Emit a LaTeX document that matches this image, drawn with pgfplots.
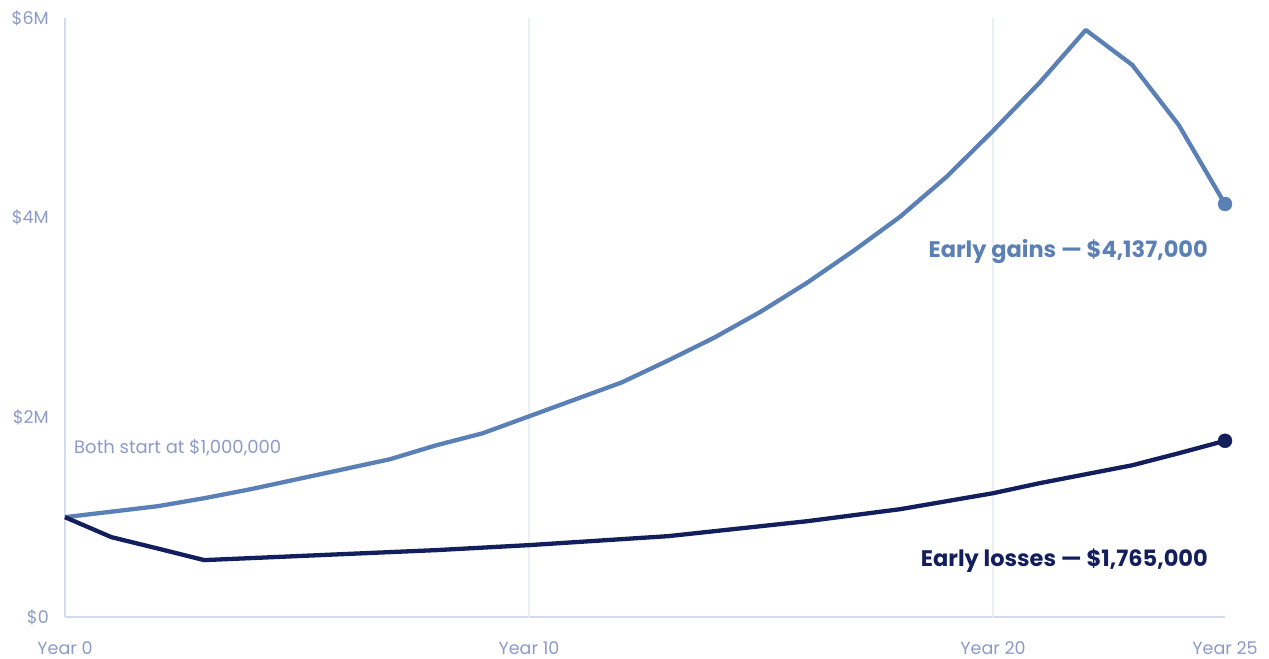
\documentclass[border=0pt]{standalone}
\usepackage{fontspec}
\setmainfont{Poppins}
\usepackage{pgfplots}
\usepackage{pgfplotstable}
\pgfplotsset{compat=1.18}
\definecolor{gainc}{HTML}{5B80B6}
\definecolor{lossc}{HTML}{121F5C}
\definecolor{tickc}{HTML}{8E9AC6}
\definecolor{axisc}{HTML}{D3D9EE}
\definecolor{gridc}{HTML}{EBEEF6}
\pgfplotstableread{
year gains losses
0 1.000 1.000
1 1.055 0.800
2 1.110 0.686
3 1.190 0.570
4 1.280 0.590
5 1.380 0.610
6 1.480 0.630
7 1.580 0.650
8 1.720 0.670
9 1.840 0.695
10 2.010 0.720
11 2.180 0.750
12 2.350 0.780
13 2.570 0.810
14 2.800 0.860
15 3.060 0.910
16 3.350 0.960
17 3.670 1.020
18 4.010 1.080
19 4.410 1.160
20 4.870 1.240
21 5.350 1.340
22 5.880 1.430
23 5.530 1.520
24 4.930 1.640
25 4.137 1.765
}\datatable
\begin{document}
\begin{tikzpicture}
\begin{axis}[
  scale only axis, width=1160bp, height=599bp,
  xmin=0, xmax=25, ymin=0, ymax=6,
  axis lines=left,
  axis line style={draw=axisc, line width=1.5bp, -},
  xtick={0,10,20,25}, xticklabels={Year 0,Year 10,Year 20,Year 25},
  ytick={0,2,4,6}, yticklabels={\$0,\$2M,\$4M,\$6M},
  major tick length=0,
  tick label style={font=\fontsize{17.5bp}{20bp}\selectfont, text=tickc},
  xticklabel style={anchor=base, yshift=-37bp, inner sep=0pt},
  yticklabel style={anchor=east, xshift=-16bp, inner sep=0pt},
  clip=false,
]
\draw[gridc, line width=1.5bp] (axis cs:10,0) -- (axis cs:10,6);
\draw[gridc, line width=1.5bp] (axis cs:20,0) -- (axis cs:20,6);
\addplot[gainc, line width=4.3bp, line join=round, no marks] table[x=year, y=gains]{\datatable};
\addplot[lossc, line width=4.3bp, line join=round, no marks] table[x=year, y=losses]{\datatable};
\addplot[gainc, only marks, mark=*, mark size=7bp, mark options={fill=gainc, draw=gainc}] coordinates {(25,4.137)};
\addplot[lossc, only marks, mark=*, mark size=7bp, mark options={fill=lossc, draw=lossc}] coordinates {(25,1.765)};
\node[anchor=east, text=gainc, font=\fontsize{22.5bp}{26bp}\selectfont\bfseries, inner sep=0pt, xshift=-17bp, yshift=-3bp] at (axis cs:25,3.686) {Early gains — \$4,137,000};
\node[anchor=east, text=lossc, font=\fontsize{22.5bp}{26bp}\selectfont\bfseries, inner sep=0pt, xshift=-17bp, yshift=-3bp] at (axis cs:25,0.591) {Early losses — \$1,765,000};
\node[anchor=west, text=tickc, font=\fontsize{18bp}{21bp}\selectfont, inner sep=0pt, xshift=9bp, yshift=-1bp] at (axis cs:0,1.703) {Both start at \$1,000,000};
\end{axis}
\pgfresetboundingbox
\path[use as bounding box] ([shift={(-65bp,-41bp)}]current axis.south west) rectangle ([shift={(44bp,18bp)}]current axis.north east);
\end{tikzpicture}
\end{document}
